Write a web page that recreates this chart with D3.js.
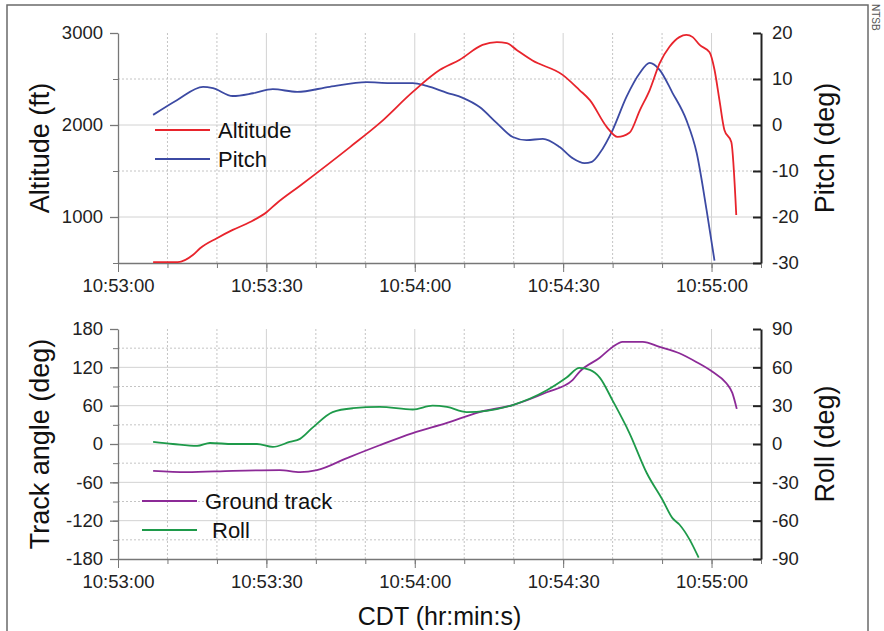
<!DOCTYPE html>
<html>
<head>
<meta charset="utf-8">
<script src="https://cdn.jsdelivr.net/npm/d3@7"></script>
<style>
  body { margin: 0; background: #fff; }
  text { font-family: "Liberation Sans", Arial, sans-serif; }
</style>
</head>
<body>
<svg></svg>
<script>
const svgWidth = 884
const svgHeight = 631

// seconds after 10:53:00
const altitudeSec = [7.1, 12.1, 15.2, 16.6, 20.0, 23.2, 26.7, 30.1, 32.1, 36.8, 46.9, 52.9, 59.6, 65.1, 69.1, 73.7, 76.6, 78.6, 80.6, 83.8, 89.9, 93.3, 95.4, 98.8, 101.0, 103.4, 105.5, 107.5, 109.5, 111.5, 113.5, 114.9, 116.2, 117.6, 119.6, 120.6, 121.6, 122.6, 124.0, 125.0]
const altitudeFt = [510, 510, 590, 660, 770, 860, 945, 1055, 1150, 1340, 1760, 2020, 2360, 2600, 2710, 2870, 2900, 2890, 2815, 2700, 2545, 2380, 2270, 1980, 1870, 1915, 2160, 2380, 2670, 2850, 2955, 2980, 2955, 2870, 2790, 2600, 2270, 1946, 1815, 1022]

const pitchSec = [7.1, 11.9, 17.2, 19.2, 23.2, 27.3, 31.3, 36.2, 42.8, 50.3, 54.9, 59.6, 62.4, 66.5, 69.7, 73.1, 76.6, 79.8, 82.6, 85.9, 89.3, 91.9, 94.3, 95.8, 97.4, 100.0, 102.8, 105.5, 107.5, 109.5, 112.1, 114.9, 117.0, 119.0, 120.6]
const pitchDeg = [2.2, 5.4, 8.3, 8.0, 6.3, 6.9, 7.8, 7.2, 8.3, 9.3, 9.1, 9.1, 8.5, 7.0, 5.9, 3.9, 0.4, -2.6, -3.3, -3.0, -4.8, -7.2, -8.3, -8.0, -6.1, -1.1, 6.1, 11.3, 13.5, 12.0, 7.0, 1.1, -6.1, -18.5, -29.5]

const trackSec = [7.1, 13.9, 23.2, 32.7, 36.8, 40.2, 46.3, 52.9, 59.6, 66.5, 73.1, 79.8, 86.7, 91.9, 93.3, 97.4, 100.0, 102.0, 106.1, 109.5, 113.5, 117.0, 120.2, 123.0, 124.2, 125.1]
const trackDeg = [-42, -44, -42, -41, -44, -41, -22, -2, 17, 33, 50, 61, 81, 100, 113, 135, 152, 160, 160, 152, 142, 128, 113, 95, 80, 55]

const rollSec = [7.1, 11.1, 16.0, 18.6, 23.2, 28.1, 31.3, 34.7, 36.8, 39.4, 43.4, 47.5, 52.9, 59.6, 63.6, 66.5, 70.5, 74.5, 79.8, 86.7, 90.7, 93.3, 95.4, 97.4, 100.0, 103.4, 106.9, 110.1, 112.1, 113.5, 115.6, 117.4]
const rollDeg = [1.6, 0, -1.5, 0.8, 0, 0, -2.3, 1.6, 4, 13, 25, 28, 29, 27, 30, 29, 25, 26, 30.5, 42, 52, 59.5, 58, 52, 34, 8.6, -22.7, -43.8, -58, -63, -75, -89]

const altitudeTicks = [1000, 2000, 3000]
const pitchTicks = [-30, -20, -10, 0, 10, 20]
const trackTicks = [-180, -120, -60, 0, 60, 120, 180]
const rollTicks = [-90, -60, -30, 0, 30, 60, 90]

const t0 = new Date(2000, 0, 1, 10, 53, 0)
const toDate = (s) => new Date(t0.getTime() + s * 1000)
const plainFormat = (d) => String(d)

const left = 118
const right = 761
const top1 = { top: 33, bottom: 263 }
const bot1 = { top: 329, bottom: 559 }

const svg = d3.select("svg")
  .attr("width", svgWidth)
  .attr("height", svgHeight)

// outer frame
svg.append("rect")
  .attr("x", 7).attr("y", 5)
  .attr("width", 861).attr("height", 700)
  .attr("fill", "none")
  .attr("stroke", "#6a6a6a")
  .attr("stroke-width", 1.5)

svg.append("text")
  .text("NTSB")
  .attr("transform", "translate(872,4) rotate(90)")
  .attr("font-size", 10)
  .attr("fill", "#555")

const xScale = d3.scaleTime()
  .domain([t0, toDate(130)])
  .range([left, right])

const gridColor = "#d2d2d2"

function styleText(sel) {
  sel.selectAll("text")
    .attr("font-size", 18.5)
    .attr("fill", "#222")
    .attr("font-family", "Liberation Sans, Arial, sans-serif")
}

function drawPanel(p, yLeft, yRight, leftMinor, leftTicks, rightTicks, leftTitle, rightTitle) {
  const g = svg.append("g")

  // horizontal gridlines
  leftMinor.forEach((v) => {
    const y = yLeft(v)
    if (Math.abs(y - p.top) < 1 || Math.abs(y - p.bottom) < 1) return
    const major = leftTicks.includes(v)
    g.append("line")
      .attr("x1", left).attr("x2", right)
      .attr("y1", y).attr("y2", y)
      .attr("stroke", major ? gridColor : "#c4c4c4")
      .attr("stroke-dasharray", major ? null : "2,2")
  })

  // vertical gridlines every 10 s
  const secs = d3.timeSecond.every(10).range(toDate(10), toDate(121))
  secs.forEach((d) => {
    const major = d.getSeconds() % 30 === 0
    g.append("line")
      .attr("x1", xScale(d)).attr("x2", xScale(d))
      .attr("y1", p.top).attr("y2", p.bottom)
      .attr("stroke", major ? gridColor : "#c4c4c4")
      .attr("stroke-dasharray", major ? null : "2,2")
  })

  // x axis
  const xMinor = g.append("g")
    .attr("transform", `translate(0,${p.bottom})`)
    .call(d3.axisBottom(xScale).ticks(d3.timeSecond.every(10)).tickSize(5).tickFormat("").tickSizeOuter(0))
  xMinor.select(".domain").remove()
  xMinor.selectAll("line").attr("stroke", "#777")

  const xAxis = g.append("g")
    .attr("transform", `translate(0,${p.bottom})`)
    .call(d3.axisBottom(xScale)
      .tickValues([0, 30, 60, 90, 120].map(toDate))
      .tickFormat(d3.timeFormat("%H:%M:%S"))
      .tickSize(9).tickPadding(7).tickSizeOuter(0))
  xAxis.select(".domain").attr("stroke", "#777").attr("stroke-width", 1.3)
  xAxis.selectAll("line").attr("stroke", "#777")
  styleText(xAxis)

  // left axis minor + major
  const lMinor = g.append("g")
    .attr("transform", `translate(${left},0)`)
    .call(d3.axisLeft(yLeft).tickValues(leftMinor).tickSize(5).tickFormat("").tickSizeOuter(0))
  lMinor.select(".domain").remove()
  lMinor.selectAll("line").attr("stroke", "#777")

  const lAxis = g.append("g")
    .attr("transform", `translate(${left},0)`)
    .call(d3.axisLeft(yLeft).tickValues(leftTicks).tickFormat(plainFormat)
      .tickSize(8).tickPadding(7).tickSizeOuter(0))
  lAxis.select(".domain").attr("stroke", "#777").attr("stroke-width", 1.3)
  lAxis.selectAll("line").attr("stroke", "#777").attr("stroke-width", 1.3)
  styleText(lAxis)

  // right axis, ticks pointing inward
  const rAxis = g.append("g")
    .attr("transform", `translate(${right},0)`)
    .call(d3.axisRight(yRight).tickValues(rightTicks).tickFormat(plainFormat)
      .tickSize(-8).tickPadding(11).tickSizeOuter(0))
  rAxis.select(".domain").attr("stroke", "#222").attr("stroke-width", 2)
  rAxis.selectAll("line").attr("stroke", "#222").attr("stroke-width", 2)
  styleText(rAxis)

  const midY = (p.top + p.bottom) / 2
  svg.append("text")
    .text(leftTitle)
    .attr("transform", `translate(49,${midY}) rotate(-90)`)
    .attr("text-anchor", "middle")
    .attr("font-size", 27)
    .attr("fill", "#111")
  svg.append("text")
    .text(rightTitle)
    .attr("transform", `translate(834,${midY}) rotate(-90)`)
    .attr("text-anchor", "middle")
    .attr("font-size", 27)
    .attr("fill", "#111")
}

function drawLine(secs, vals, yScale, color) {
  const line = d3.line()
    .x((d, i) => xScale(toDate(secs[i])))
    .y((d) => yScale(d))
    .curve(d3.curveMonotoneX)
  svg.append("path")
    .datum(vals)
    .attr("d", line)
    .attr("fill", "none")
    .attr("stroke", color)
    .attr("stroke-width", 1.8)
}

function drawLegend(x, y, items) {
  items.forEach((it, i) => {
    const yy = y + i * 29
    svg.append("line")
      .attr("x1", x).attr("x2", x + 55)
      .attr("y1", yy).attr("y2", yy)
      .attr("stroke", it.color)
      .attr("stroke-width", 2.2)
    svg.append("text")
      .text(it.label)
      .attr("x", x + 63 + (it.indent || 0))
      .attr("y", yy + 8)
      .attr("font-size", 22)
      .attr("fill", "#111")
  })
}

// top panel
const yAlt = d3.scaleLinear().domain([500, 3000]).range([top1.bottom, top1.top])
const yPitch = d3.scaleLinear().domain([-30, 20]).range([top1.bottom, top1.top])
drawPanel(top1, yAlt, yPitch, d3.range(500, 3001, 500), altitudeTicks, pitchTicks, "Altitude (ft)", "Pitch (deg)")
drawLine(pitchSec, pitchDeg, yPitch, "#3c4aa3")
drawLine(altitudeSec, altitudeFt, yAlt, "#e8242c")
drawLegend(155, 130, [
  { label: "Altitude", color: "#e8242c" },
  { label: "Pitch", color: "#3c4aa3" }
])

// bottom panel
const yTrack = d3.scaleLinear().domain([-180, 180]).range([bot1.bottom, bot1.top])
const yRoll = d3.scaleLinear().domain([-90, 90]).range([bot1.bottom, bot1.top])
drawPanel(bot1, yTrack, yRoll, d3.range(-180, 181, 30), trackTicks, rollTicks, "Track angle (deg)", "Roll (deg)")
drawLine(trackSec, trackDeg, yTrack, "#8c2a97")
drawLine(rollSec, rollDeg, yRoll, "#1e9a4a")
drawLegend(142, 501, [
  { label: "Ground track", color: "#8c2a97" },
  { label: "Roll", color: "#1e9a4a", indent: 7 }
])

svg.append("text")
  .text("CDT (hr:min:s)")
  .attr("x", (left + right) / 2)
  .attr("y", 625)
  .attr("text-anchor", "middle")
  .attr("font-size", 25)
  .attr("fill", "#111")
</script>
</body>
</html>
